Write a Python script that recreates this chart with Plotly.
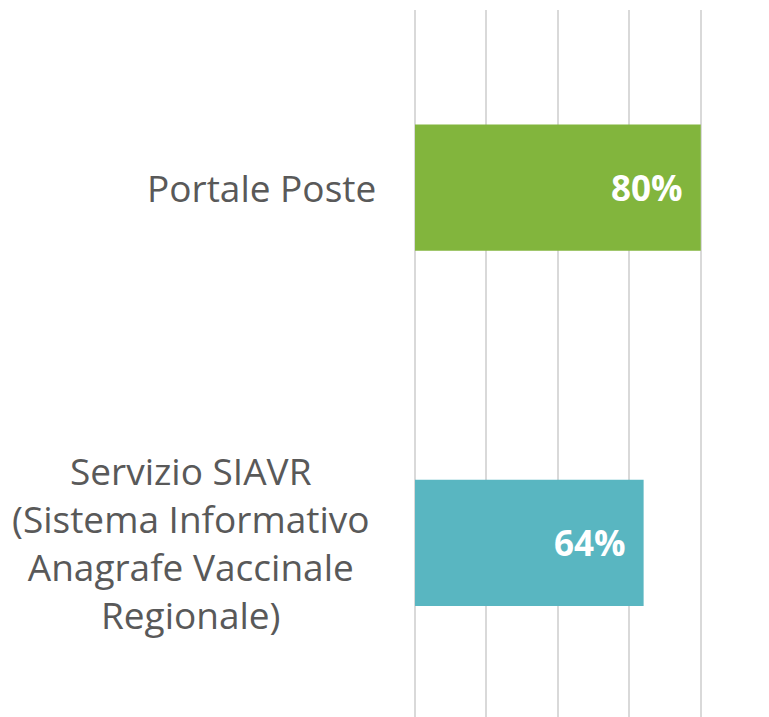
import plotly.graph_objects as go

categories = ["Portale Poste", "Servizio SIAVR<br>(Sistema Informativo<br>Anagrafe Vaccinale<br>Regionale)"]
values = [0.80, 0.64]
colors = ["#82B53D", "#59B6C1"]
label_shift = [-37, -43]

fig = go.Figure()
fig.add_trace(go.Bar(
    y=categories, x=values, orientation="h",
    marker=dict(color=colors, line=dict(width=0)),
    width=0.355, hoverinfo="skip",
))

for cat, v, s in zip(categories, values, label_shift):
    fig.add_annotation(
        x=v, y=cat, xref="x", yref="y", text=f"<b>{round(v*100)}%</b>",
        showarrow=False, xanchor="right", yanchor="middle", xshift=-16,
        font=dict(family="Open Sans", size=35, color="white"),
    )
    fig.add_annotation(
        x=0, y=cat, xref="paper", yref="y", text=cat, align="center",
        showarrow=False, xanchor="right", yanchor="middle", xshift=s,
        font=dict(family="Open Sans", size=37, color="#595959"),
    )

fig.update_layout(
    width=761, height=709,
    margin=dict(l=407, r=0, t=2, b=0),
    paper_bgcolor="white", plot_bgcolor="white",
    showlegend=False,
    xaxis=dict(range=[0, 0.991], tickvals=[0, 0.2, 0.4, 0.6, 0.8], showticklabels=False,
               showgrid=True, gridcolor="#D9D9D9", gridwidth=1.5,
               zeroline=True, zerolinecolor="#D9D9D9", zerolinewidth=1.5, showline=False),
    yaxis=dict(range=[1.49, -0.5], showticklabels=False, showgrid=False, zeroline=False,
               showline=False, type="category"),
)

fig.write_html("out.html")
